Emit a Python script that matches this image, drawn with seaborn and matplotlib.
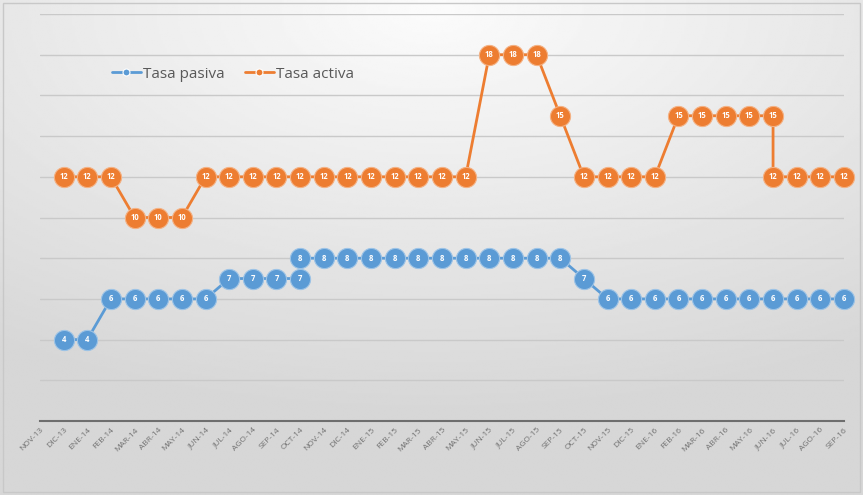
import matplotlib
matplotlib.use("Agg")
import matplotlib.pyplot as plt
import numpy as np
import pandas as pd
import seaborn as sns

MONTHS = [
    "NOV-13", "DIC-13", "ENE-14", "FEB-14", "MAR-14", "ABR-14", "MAY-14",
    "JUN-14", "JUL-14", "AGO-14", "SEP-14", "OCT-14", "NOV-14", "DIC-14",
    "ENE-15", "FEB-15", "MAR-15", "ABR-15", "MAY-15", "JUN-15", "JUL-15",
    "AGO-15", "SEP-15", "OCT-15", "NOV-15", "DIC-15", "ENE-16", "FEB-16",
    "MAR-16", "ABR-16", "MAY-16", "JUN-16", "JUL-16", "AGO-16", "SEP-16",
]

# position of each point on the month axis (repeated position = step on the same date)
PASIVA_X = [1, 2, 3, 4, 5, 6, 7, 8, 9, 10, 11, 11, 12, 13, 14, 15, 16, 17, 18,
            19, 20, 21, 22, 23, 24, 25, 26, 27, 28, 29, 30, 31, 32, 33, 34]
PASIVA_Y = [4, 4, 6, 6, 6, 6, 6, 7, 7, 7, 7, 8, 8, 8, 8, 8, 8, 8, 8,
            8, 8, 8, 8, 7, 6, 6, 6, 6, 6, 6, 6, 6, 6, 6, 6]

ACTIVA_X = [1, 2, 3, 4, 5, 6, 7, 8, 9, 10, 11, 12, 13, 14, 15, 16, 17, 18, 19,
            20, 21, 22, 23, 24, 25, 26, 27, 28, 29, 30, 31, 31, 32, 33, 34]
ACTIVA_Y = [12, 12, 12, 10, 10, 10, 12, 12, 12, 12, 12, 12, 12, 12, 12, 12, 12, 12, 18,
            18, 18, 15, 12, 12, 12, 12, 15, 15, 15, 15, 15, 12, 12, 12, 12]

SERIES = ["Tasa pasiva", "Tasa activa"]
COLORS = {"Tasa pasiva": "#5B9BD5", "Tasa activa": "#ED7D31"}

df = pd.concat([
    pd.DataFrame({"x": PASIVA_X, "y": PASIVA_Y, "serie": SERIES[0]}),
    pd.DataFrame({"x": ACTIVA_X, "y": ACTIVA_Y, "serie": SERIES[1]}),
])

sns.set_theme(style="white")
plt.rcParams["font.family"] = ["Open Sans", "DejaVu Sans"]

fig = plt.figure(figsize=(8.63, 4.95), dpi=100)

# soft radial background like the original office chart
bg = fig.add_axes([0, 0, 1, 1], zorder=-10)
gx, gy = np.meshgrid(np.linspace(0, 1, 400), np.linspace(0, 1, 240))
dist = np.sqrt(((gx - 0.5) * 1.0) ** 2 + ((gy - 0.02) * 1.1) ** 2)
shade = np.clip(0.985 - 0.16 * dist, 0.84, 0.985)
bg.imshow(shade, cmap="gray", vmin=0, vmax=1, aspect="auto", extent=[0, 1, 1, 0])
bg.add_patch(plt.Rectangle((0.004, 0.006), 0.992, 0.988, fill=False,
                           edgecolor="#c8c8c8", lw=1.0, transform=bg.transAxes))
bg.set_axis_off()

ax = fig.add_axes([40 / 863, 74 / 495, 804 / 863, 407 / 495])
ax.patch.set_alpha(0)

sns.lineplot(
    data=df, x="x", y="y", hue="serie", palette=COLORS, hue_order=SERIES,
    estimator=None, sort=False, units="serie", marker="o", markersize=14.5,
    markeredgewidth=0.8, linewidth=2, ax=ax,
)
for line, s in zip(ax.lines, SERIES):
    line.set_markeredgecolor("#9cc3e6" if s == SERIES[0] else "#f4b183")
    line.set_clip_on(False)

for s, xs, ys in [(SERIES[0], PASIVA_X, PASIVA_Y), (SERIES[1], ACTIVA_X, ACTIVA_Y)]:
    for xv, yv in zip(xs, ys):
        ax.text(xv, yv, str(yv), ha="center", va="center", fontsize=5.5,
                color="white", fontweight="bold", zorder=5, clip_on=False)

ax.set_xlim(0, 34)
ax.set_ylim(0, 20)
ax.set_yticks(np.arange(0, 21, 2))
ax.set_yticklabels([])
ax.tick_params(axis="y", length=0)
ax.grid(axis="y", color="#c9c9c9", linewidth=1.0)
ax.grid(axis="x", visible=False)
ax.set_axisbelow(True)

ax.set_xticks(range(len(MONTHS)))
ax.set_xticklabels(MONTHS, rotation=45, ha="right", rotation_mode="anchor",
                   fontsize=6, color="#707070")
ax.tick_params(axis="x", length=0, pad=4)
ax.set_xlabel("")
ax.set_ylabel("")
for side in ["top", "right", "left"]:
    ax.spines[side].set_visible(False)
ax.spines["bottom"].set_color("#6e6e6e")
ax.spines["bottom"].set_linewidth(1.5)

handles, labels = ax.get_legend_handles_labels()
for h in handles:
    h.set_markersize(5)
ax.legend(handles, labels, loc="center left", bbox_to_anchor=(98 / 863, 1 - 74 / 495),
          bbox_transform=fig.transFigure, ncol=2, frameon=False, fontsize=11,
          labelcolor="#595959", handlelength=1.9, handletextpad=0.15, columnspacing=1.3)

fig.savefig("out.png", dpi=100)
